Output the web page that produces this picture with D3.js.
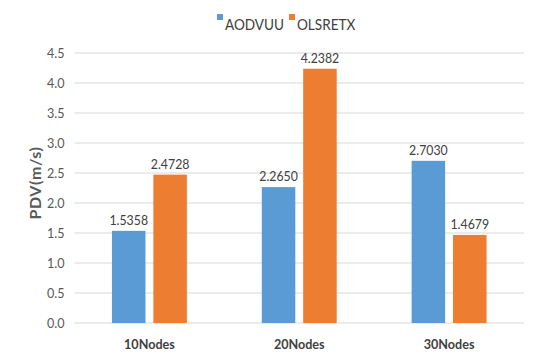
<!DOCTYPE html>
<html><head><meta charset="utf-8">
<script src="https://cdn.jsdelivr.net/npm/d3@7"></script>
<style>
html,body{margin:0;padding:0;background:#fff;}
svg text{font-family:Lato,"Open Sans",sans-serif;}
</style></head>
<body><svg id="c" width="543" height="358"></svg>
<script>
const categories = ["10Nodes","20Nodes","30Nodes"];
const seriesNames = ["AODVUU","OLSRETX"];
const aodvuu = [1.5358, 2.2650, 2.7030];
const olsretx = [2.4728, 4.2382, 1.4679];
const valueLabels = [["1.5358","2.2650","2.7030"],["2.4728","4.2382","1.4679"]];
const yTicks = [0,0.5,1,1.5,2,2.5,3,3.5,4,4.5];
const colors = ["#5B9BD5","#ED7D31"];
const FONT = 'Lato,"Open Sans",sans-serif';

const svg = d3.select("#c");
const m = {l:74.5, r:19, t:53, b:35};
const W = 543, H = 358;
const x = d3.scaleBand().domain(categories).range([m.l, W-m.r]).paddingInner(0).paddingOuter(0);
const x1 = d3.scaleBand().domain(seriesNames).range([x.bandwidth()*0.25, x.bandwidth()*0.75]).paddingInner(0.19).paddingOuter(0);
const y = d3.scaleLinear().domain([0,4.5]).range([H-m.b, m.t]);

function narrow(sel, px, py, sx){
  return sel.attr("transform", `translate(${px},${py}) scale(${sx},1)`);
}

// gridlines
svg.append("g").selectAll("line").data(yTicks).join("line")
  .attr("x1", m.l).attr("x2", W-m.r)
  .attr("y1", d=>y(d)).attr("y2", d=>y(d))
  .attr("stroke","#d9d9d9").attr("stroke-width",1);

// y axis labels
const yAxis = d3.axisLeft(y).tickValues(yTicks).tickFormat(d3.format(".1f")).tickSize(0).tickPadding(10);
const ga = svg.append("g").attr("transform",`translate(${m.l},0)`).call(yAxis);
ga.select(".domain").remove();
ga.selectAll("text").attr("fill","#595959").style("font-size","14px")
  .style("font-family",FONT).attr("transform","scale(0.9,1)").attr("x",-11);

// bars
const data = [aodvuu, olsretx];
data.forEach((vals, si) => {
  const g = svg.append("g");
  g.selectAll("rect").data(vals).join("rect")
    .attr("x",(d,i)=>x(categories[i]) + x1(seriesNames[si]))
    .attr("width", x1.bandwidth())
    .attr("y", d=>y(d))
    .attr("height", d=>y(0)-y(d))
    .attr("fill", colors[si]);
  g.selectAll("text").data(vals).join("text")
    .each(function(d,i){
      narrow(d3.select(this), x(categories[i]) + x1(seriesNames[si]) + x1.bandwidth()/2, y(d)-6, 0.88);
    })
    .attr("text-anchor","middle")
    .attr("fill","#404040").style("font-size","14px")
    .text((d,i)=>valueLabels[si][i]);
});

// x axis labels
const xAxis = d3.axisBottom(x).tickSize(0).tickPadding(16);
const gx = svg.append("g").attr("transform",`translate(0,${y(0)})`).call(xAxis);
gx.select(".domain").remove();
gx.selectAll("text").attr("fill","#404040").style("font-size","14px").style("font-weight","bold")
  .style("font-family",FONT).attr("transform","scale(0.9,1)");

// y title
svg.append("text")
  .attr("transform",`translate(41,${(y(0)+y(4.5))/2 - 5}) rotate(-90)`)
  .attr("text-anchor","middle")
  .attr("fill","#595959").style("font-size","16px").style("font-weight","bold")
  .style("letter-spacing","0.6px")
  .text("PDV(m/s)");

// legend
const leg = svg.append("g");
const legX = [217, 289];
seriesNames.forEach((s,i)=>{
  leg.append("rect").attr("x",legX[i]).attr("y",14).attr("width",6).attr("height",6).attr("fill",colors[i]);
  narrow(leg.append("text"), legX[i]+8, 30, 0.85).attr("fill","#404040")
    .style("font-size","16px").text(s);
});
</script></body></html>
